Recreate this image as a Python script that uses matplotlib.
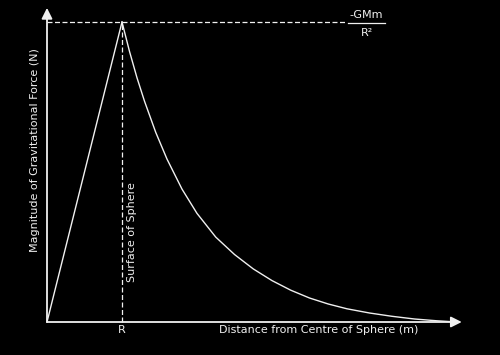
import matplotlib
matplotlib.use("Agg")
import matplotlib.pyplot as plt

# distances in units of R, force as fraction of the surface value
inside_x = [0.0, 1.0]
inside_y = [0.0, 1.0]
outside_x = [1.0, 1.1, 1.2, 1.3, 1.45, 1.6, 1.8, 2.0, 2.25, 2.5, 2.75,
             3.0, 3.25, 3.5, 3.75, 4.0, 4.3, 4.6, 4.9, 5.2, 5.4]
outside_y = [1.0, 0.902, 0.814, 0.736, 0.632, 0.543, 0.443, 0.362, 0.283, 0.225, 0.177,
             0.138, 0.106, 0.080, 0.060, 0.044, 0.030, 0.019, 0.010, 0.004, 0.001]
surface_x = 1.0
peak_y = 1.0

fg = "#f0f0f0"
fs = 8

fig = plt.figure(figsize=(5, 3.55), dpi=100)
fig.patch.set_facecolor("black")
ax = fig.add_axes([0, 0, 1, 1])
ax.set_facecolor("black")
ax.set_xlim(-47 / 75, 453 / 75)
ax.set_ylim(-33 / 300, 322 / 300)
ax.axis("off")

# axes with arrow heads
ax.annotate("", xy=(5.53, 0), xytext=(0, 0),
            arrowprops=dict(arrowstyle="-|>", color=fg, lw=1.3, mutation_scale=16,
                            shrinkA=0, shrinkB=0))
ax.annotate("", xy=(0, 1.047), xytext=(0, 0),
            arrowprops=dict(arrowstyle="-|>", color=fg, lw=1.3, mutation_scale=16,
                            shrinkA=0, shrinkB=0))

# guide lines
ax.plot([surface_x, surface_x], [0, peak_y], color=fg, lw=0.9, ls=(0, (4, 2)))
ax.plot([0, 3.97], [peak_y, peak_y], color=fg, lw=0.9, ls=(0, (4, 2)))

# force curve
ax.plot(inside_x, inside_y, color=fg, lw=1.0)
ax.plot(outside_x, outside_y, color=fg, lw=1.0)

# labels
ax.text(surface_x, -0.027, "R", color=fg, fontsize=fs, ha="center", va="center")
ax.text(4.95, -0.027, "Distance from Centre of Sphere (m)", color=fg, fontsize=fs,
        ha="right", va="center")
ax.text(-0.16, 0.573, "Magnitude of Gravitational Force (N)", color=fg, fontsize=fs,
        ha="center", va="center", rotation=90)
ax.text(1.13, 0.133, "Surface of Sphere", color=fg, fontsize=fs,
        ha="center", va="bottom", rotation=90)

# -GMm / R^2 fraction
ax.text(4.26, 1.022, "-GMm", color=fg, fontsize=fs, ha="center", va="center")
ax.plot([4.01, 4.51], [0.997, 0.997], color=fg, lw=0.9)
ax.text(4.26, 0.963, "R²", color=fg, fontsize=fs, ha="center", va="center")

fig.savefig("out.png", dpi=100, facecolor="black")
